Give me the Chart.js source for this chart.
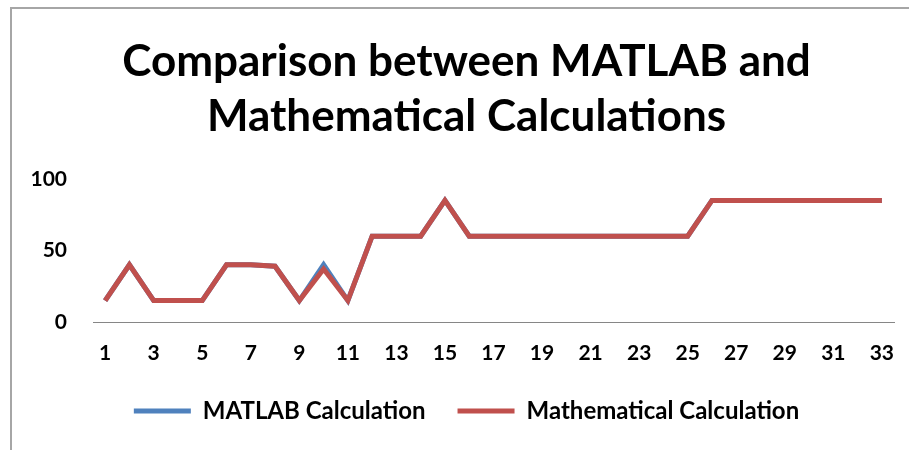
<!DOCTYPE html>
<html>
<head>
<meta charset="utf-8">
<script src="https://cdn.jsdelivr.net/npm/chart.js@4.4.0/dist/chart.umd.min.js"></script>
<style>
  html, body { margin: 0; padding: 0; background: #ffffff; }
  #wrap { position: relative; width: 909px; height: 450px; overflow: hidden; }
  #frame { position: absolute; left: 10px; top: 7px; width: 950px; height: 500px;
           border-left: 2px solid #a6a6a6; border-top: 2px solid #a6a6a6; box-sizing: border-box; }
  canvas { position: absolute; left: 0; top: 0; }
</style>
</head>
<body>
<div id="wrap">
  <div id="frame"></div>
  <canvas id="c" width="909" height="450"></canvas>
</div>
<script>
const categories = ["1","2","3","4","5","6","7","8","9","10","11","12","13","14","15","16","17",
  "18","19","20","21","22","23","24","25","26","27","28","29","30","31","32","33"];
const matlabValues = [15,40,15,15,15,40,40,39,15,40,15,60,60,60,85,60,60,60,60,60,60,60,60,60,60,85,85,85,85,85,85,85,85];
const mathValues   = [15,40,15,15,15,40,40,39,15,37,15,60,60,60,85,60,60,60,60,60,60,60,60,60,60,85,85,85,85,85,85,85,85];
const yTicks = [0, 50, 100];
const titleLines = ["Comparison between MATLAB and", "Mathematical Calculations"];
const seriesNames = ["MATLAB Calculation", "Mathematical Calculation"];
const BLUE = "#4f81bd", RED = "#c0504d";
const FONT = "Lato";

new Chart(document.getElementById("c"), {
  type: "line",
  data: {
    labels: categories,
    datasets: [
      { label: seriesNames[1], data: mathValues, borderColor: RED, backgroundColor: RED,
        borderWidth: 5, pointRadius: 0, tension: 0, fill: false, yAxisID: "y" },
      { label: seriesNames[0], data: matlabValues, borderColor: BLUE, backgroundColor: BLUE,
        borderWidth: 5, pointRadius: 0, tension: 0, fill: false, yAxisID: "y" }
    ]
  },
  options: {
    responsive: false,
    animation: false,
    layout: { padding: { left: 24, right: 0, top: 0, bottom: 17 } },
    plugins: {
      title: {
        display: true,
        text: titleLines,
        color: "#000000",
        font: { family: FONT, size: 44, weight: "bold", lineHeight: 1.25 },
        padding: { top: 34, bottom: 35 }
      },
      legend: {
        position: "bottom",
        reverse: true,
        labels: {
          color: "#000000",
          font: { family: FONT, size: 24, weight: "bold" },
          boxWidth: 57,
          boxHeight: 5,
          padding: 32,
          generateLabels: function(chart) {
            const items = Chart.defaults.plugins.legend.labels.generateLabels(chart);
            items.forEach(it => { it.lineWidth = 0; });
            return items;
          }
        }
      },
      tooltip: { enabled: false }
    },
    scales: {
      x: {
        offset: true,
        grid: { display: false, drawTicks: false },
        border: { display: true, color: "#868686", width: 1 },
        ticks: {
          autoSkip: false, maxRotation: 0, minRotation: 0, padding: 19,
          color: "#000000",
          font: { family: FONT, size: 21, weight: "bold" },
          callback: function(v, i) { return (i % 2 === 0) ? categories[i] : ""; }
        },
        afterFit: function(s) { s.height = 45; s.paddingLeft = 0; s.paddingRight = 0; }
      },
      y: {
        min: 0, max: 100,
        grid: { display: false, drawTicks: false },
        border: { display: false },
        afterBuildTicks: function(s) { s.ticks = yTicks.map(v => ({ value: v })); },
        ticks: {
          padding: 26,
          color: "#000000",
          font: { family: FONT, size: 21, weight: "bold" }
        },
        afterFit: function(s) { s.width = 93 - 24; }
      },
      yRightSpace: {
        type: "linear",
        position: "right",
        min: 0, max: 100,
        grid: { display: false, drawTicks: false },
        border: { display: false },
        ticks: { display: false },
        afterFit: function(s) { s.width = 15; s.paddingTop = 0; s.paddingBottom = 0; }
      }
    }
  }
});
</script>
</body>
</html>
